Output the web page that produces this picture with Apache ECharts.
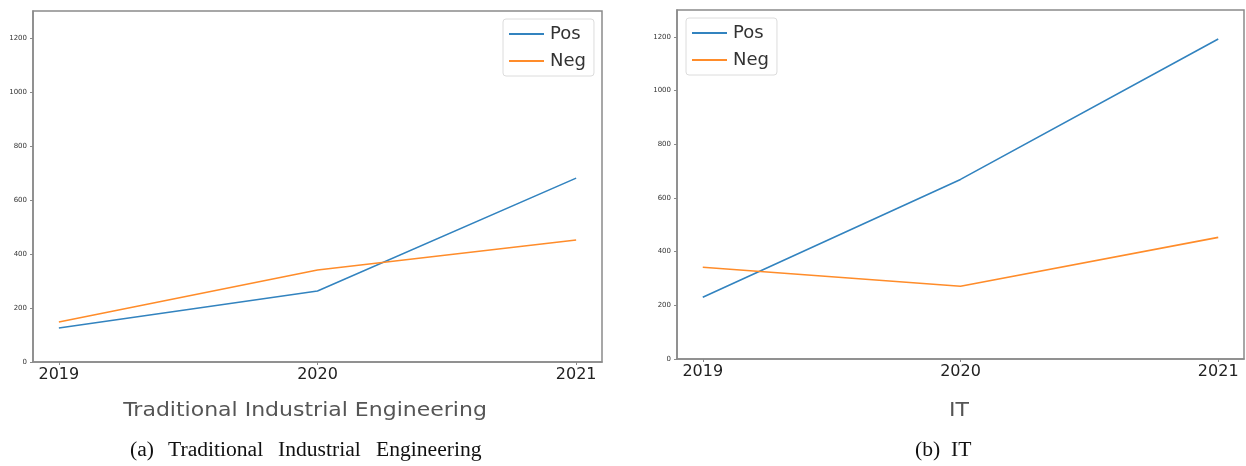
<!DOCTYPE html>
<html>
<head>
<meta charset="utf-8">
<script src="https://cdn.jsdelivr.net/npm/echarts@6/dist/echarts.min.js"></script>
<style>
  html, body { margin: 0; padding: 0; background: #fff; }
  #chart { width: 1246px; height: 466px; }
</style>
</head>
<body>
<div id="chart"></div>
<script>
// Yearly counts of positive / negative mentions per field
const years = [2019, 2020, 2021];
const yTicks = [0, 200, 400, 600, 800, 1000, 1200];
const tiePos = [126, 263, 681];
const tieNeg = [148, 341, 452];
const itPos = [230, 669, 1192];
const itNeg = [342, 271, 453];
const panelTitles = ['Traditional Industrial Engineering', 'IT'];

const BLUE = '#3283bf';
const ORANGE = '#ff8c2a';
const FRAME = '#8a8a8a';
const SANS = 'DejaVu Sans';

function pairs(vals) {
  return years.map((y, i) => [y, vals[i]]);
}

function xAxis(idx) {
  return {
    type: 'value', gridIndex: idx, min: 2018.9, max: 2021.1,
    splitLine: { show: false },
    axisLine: { show: true, lineStyle: { color: FRAME, width: 1.5 } },
    axisTick: { show: true, customValues: years, length: 3, lineStyle: { color: FRAME } },
    axisLabel: { customValues: years, fontSize: 16, color: '#222', margin: 5,
                 fontFamily: SANS, formatter: v => String(v) }
  };
}

function yAxis(idx) {
  return {
    type: 'value', gridIndex: idx, min: 0, max: 1300,
    splitLine: { show: false },
    axisLine: { show: true, lineStyle: { color: FRAME, width: 1.5 } },
    axisTick: { show: true, customValues: yTicks, length: 3, lineStyle: { color: FRAME } },
    axisLabel: { customValues: yTicks, fontSize: 7, color: '#333', margin: 6,
                 fontFamily: SANS, formatter: v => String(v) }
  };
}

function lineSeries(name, idx, vals, color) {
  return {
    name: name, type: 'line', xAxisIndex: idx, yAxisIndex: idx,
    data: pairs(vals), symbol: 'none', silent: true,
    lineStyle: { color: color, width: 1.6 }, itemStyle: { color: color }
  };
}

function legend(left, top) {
  return {
    data: ['Pos', 'Neg'], orient: 'vertical', left: left, top: top,
    icon: 'rect', itemWidth: 35, itemHeight: 2, itemGap: 9,
    padding: [6, 8, 6, 6], borderColor: '#dcdcdc', borderWidth: 1, borderRadius: 3,
    backgroundColor: 'rgba(255,255,255,0.85)',
    textStyle: { fontSize: 18, color: '#333', fontFamily: SANS, padding: [0, 0, 0, 1] },
    selectedMode: false
  };
}

// Axis titles under each panel (wide sans, grey)
function axisTitle(cx, text) {
  return { type: 'text', x: cx, y: 401, scaleX: 1.1,
           style: { text: text, fontSize: 20, fill: '#555', fontFamily: SANS,
                    align: 'center', verticalAlign: 'top' } };
}

// Figure captions in a serif face
function caption(x, text) {
  return { type: 'text', x: x, y: 441, scaleX: 1.08,
           style: { text: text, fontSize: 20, fill: '#111', fontFamily: 'Liberation Serif',
                    align: 'left', verticalAlign: 'top' } };
}

const chart = echarts.init(document.getElementById('chart'), null, { renderer: 'canvas' });

chart.setOption({
  animation: false,
  backgroundColor: '#fff',
  grid: [
    { left: 33, right: 644, top: 11, bottom: 104, show: true, borderColor: FRAME, borderWidth: 1.5 },
    { left: 677, right: 2, top: 10, bottom: 107, show: true, borderColor: FRAME, borderWidth: 1.5 }
  ],
  xAxis: [xAxis(0), xAxis(1)],
  yAxis: [yAxis(0), yAxis(1)],
  legend: [legend(503, 19), legend(686, 18)],
  series: [
    lineSeries('Pos', 0, tiePos, BLUE),
    lineSeries('Neg', 0, tieNeg, ORANGE),
    lineSeries('Pos', 1, itPos, BLUE),
    lineSeries('Neg', 1, itNeg, ORANGE)
  ],
  graphic: [
    axisTitle(305, panelTitles[0]),
    axisTitle(959, panelTitles[1]),
    caption(130, '(a)'),
    caption(168, 'Traditional'),
    caption(278, 'Industrial'),
    caption(376, 'Engineering'),
    caption(915, '(b)'),
    caption(951, 'IT')
  ]
});
</script>
</body>
</html>
